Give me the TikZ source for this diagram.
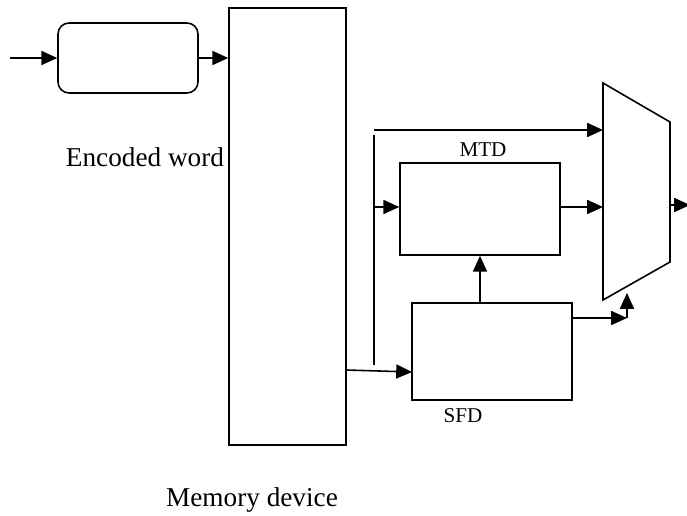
\documentclass[tikz,border=0pt]{standalone}
\usepackage{fontspec}
\setmainfont{Liberation Serif}
\usetikzlibrary{arrows.meta}
\begin{document}
\begin{tikzpicture}[x=0.02cm, y=-0.02cm, line width=0.9pt,
    arr/.style={-{Triangle[length=9pt,width=8pt]}},
    blk/.style={draw, rectangle, inner sep=0pt},
    lbl/.style={font=\fontsize{15.5}{18}\selectfont},
    slbl/.style={font=\fontsize{12}{14}\selectfont}]
   \useasboundingbox (0,0) rectangle (687,516);

   \node [blk, rounded corners=0.22cm, minimum width=2.8cm, minimum height=1.4cm] (enc) at (128,58) {};
   \node [blk, minimum width=2.34cm, minimum height=8.74cm] (mem) at (287.5,226.5) {};
   \node [blk, minimum width=3.2cm, minimum height=1.84cm] (MTD) at (480,209) {};
   \node [blk, minimum width=3.2cm, minimum height=1.94cm] (SFD) at (492,351.5) {};

   \coordinate (in) at (10,58);
   \coordinate (memout) at (346,370);
   \coordinate (sfdin) at (412,372);
   \coordinate (bustop) at (374,130);
   \coordinate (busmid) at (374,207);
   \coordinate (busbot) at (374,365);
   \coordinate (muxa) at (603,130);
   \coordinate (muxb) at (603,207);
   \coordinate (muxout) at (670,205);
   \coordinate (out) at (690,205);
   \coordinate (sfdout) at (572,318);
   \coordinate (corner) at (627,318);
   \coordinate (muxsel) at (627,293);

   % multiplexer
   \draw (603,83) coordinate (mtl) -- (670,122) coordinate (mtr)
         -- (670,262) coordinate (mbr) -- (603,300) coordinate (mbl) -- cycle;

   \node [lbl] (encw) at (145,157) {Encoded word};
   \node [lbl] (memd) at (252,500) {Memory device};
   \node [slbl] (mtdl) at (483,150) {MTD};
   \node [slbl] (sfdl) at (463,416) {SFD};

   \draw [arr] (in) -- (enc.west);
   \draw [arr] (enc.east) -- (enc.east -| mem.west);
   \draw ([yshift=-0.1cm]bustop) -- (busbot);
   \draw [arr] (bustop) -- (muxa);
   \draw [arr] (busmid) -- (busmid -| MTD.west);
   \draw [arr] (MTD.east |- muxb) -- (muxb);
   \draw [arr] (memout) -- (sfdin);
   \draw [arr] (MTD.south |- SFD.north) -- (MTD.south);
   \draw [arr] (sfdout) -- (corner);
   \draw [arr] (corner) -- (muxsel);
   \draw [arr] (muxout) -- (out);
\end{tikzpicture}
\end{document}
